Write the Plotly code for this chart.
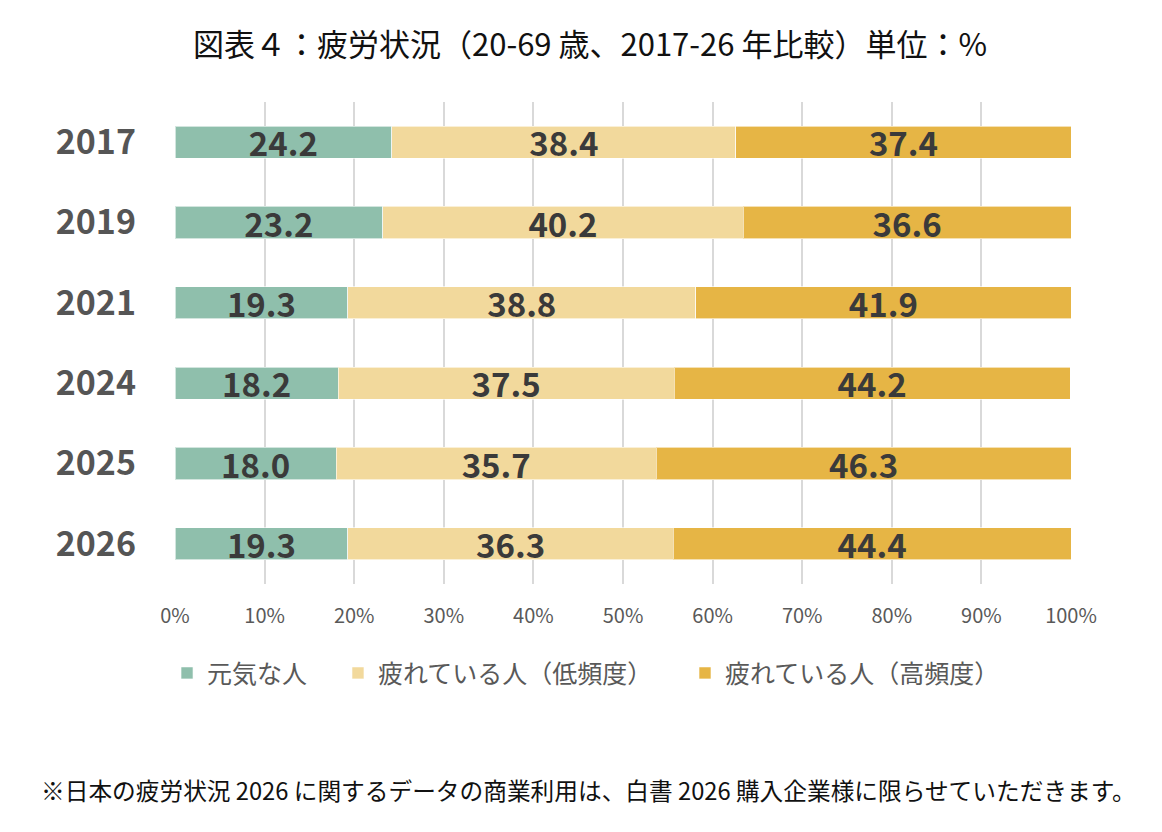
import plotly.graph_objects as go

years = ["2017", "2019", "2021", "2024", "2025", "2026"]
genki = [24.2, 23.2, 19.3, 18.2, 18.0, 19.3]
tired_low = [38.4, 40.2, 38.8, 37.5, 35.7, 36.3]
tired_high = [37.4, 36.6, 41.9, 44.2, 46.3, 44.4]
series_names = ["元気な人", "疲れている人（低頻度）", "疲れている人（高頻度）"]
colors = ["#8FBFAC", "#F2D99C", "#E6B545"]
tick_vals = [0, 10, 20, 30, 40, 50, 60, 70, 80, 90, 100]
tick_text = [f"{v}%" for v in tick_vals]

FONT = "Noto Sans CJK JP"
legend_ids = ["legend", "legend2", "legend3"]
legend_x = [-0.0089, 0.1819, 0.5692]

fig = go.Figure()
for name, vals, col, lid in zip(series_names, [genki, tired_low, tired_high], colors, legend_ids):
    fig.add_trace(go.Bar(
        y=years, x=vals, name=name, orientation="h", legend=lid,
        marker=dict(color=col, line=dict(color="rgba(255,255,255,0.6)", width=1)),
        text=[f"{v:.1f}" for v in vals], textposition="inside",
        insidetextanchor="middle", textangle=0, constraintext="none",
        textfont=dict(family=FONT, size=33, color="#3A3A3A", weight="bold"),
        hoverinfo="skip",
    ))

legend_common = dict(orientation="h", xanchor="left", y=-0.185, yanchor="middle",
                     font=dict(family=FONT, size=25, color="#595959"),
                     itemclick=False, bgcolor="rgba(0,0,0,0)")

fig.update_layout(
    barmode="stack",
    bargap=0.6,
    width=1162, height=832,
    margin=dict(l=175, r=91, t=102, b=248),
    paper_bgcolor="white", plot_bgcolor="white",
    font=dict(family=FONT, color="#595959"),
    title=dict(text="図表４：疲労状況（20-69 歳、2017-26 年比較）単位：%",
               x=(590 / 1162), xanchor="center", y=1 - 45 / 832, yanchor="middle",
               font=dict(family=FONT, size=31, color="#111111")),
    xaxis=dict(range=[0, 100], tickvals=tick_vals, ticktext=tick_text,
               showgrid=True, gridcolor="#D9D9D9", gridwidth=2,
               zeroline=False, showline=False,
               tickfont=dict(family=FONT, size=20, color="#595959"),
               ticklabelstandoff=18),
    yaxis=dict(categoryorder="array", categoryarray=years[::-1],
               showgrid=False, zeroline=False, showline=False,
               tickfont=dict(family=FONT, size=34, color="#555555", weight="bold"),
               ticklabelstandoff=38),
    legend=dict(x=legend_x[0], **legend_common),
    legend2=dict(x=legend_x[1], **legend_common),
    legend3=dict(x=legend_x[2], **legend_common),
    showlegend=True,
)

fig.add_annotation(
    text="※日本の疲労状況 2026 に関するデータの商業利用は、白書 2026 購入企業様に限らせていただきます。",
    xref="paper", yref="paper", x=(588 - 175) / 896, y=(584 - 790) / 482,
    xanchor="center", yanchor="middle", showarrow=False,
    font=dict(family=FONT, size=23.7, color="#111111"),
)

fig.write_html("out.html")
